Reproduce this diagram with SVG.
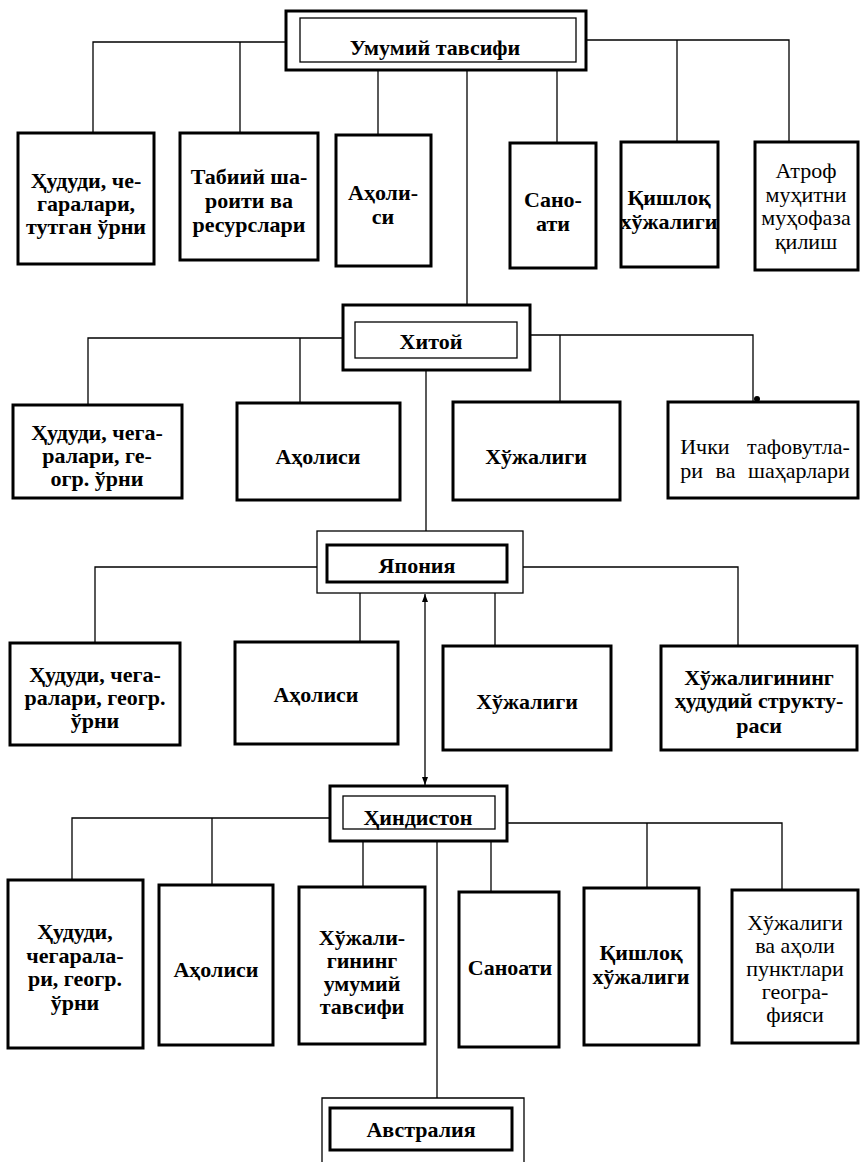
<svg xmlns="http://www.w3.org/2000/svg" width="860" height="1162" viewBox="0 0 860 1162">
<defs>
<style>
.box{fill:#fff;stroke:#000;stroke-width:3}
.thin{fill:none;stroke:#000;stroke-width:1.3}
.conn line,.conn polyline{fill:none;stroke:#000;stroke-width:1.3}
text{font-family:"Liberation Serif","DejaVu Serif",serif;font-weight:bold;font-size:22px;text-anchor:middle;fill:#000}
.n{font-weight:normal}
</style>
<marker id="ah" viewBox="0 0 8 6" refX="8" refY="3" markerWidth="8" markerHeight="6" markerUnits="userSpaceOnUse" orient="auto-start-reverse">
<path d="M0,0 L8,3 L0,6 Z" fill="#000"/>
</marker>
</defs>
<rect width="860" height="1162" fill="#fff"/>

<g id="connectors" class="conn">
<polyline points="286,42 93,42 93,133"/>
<line x1="240" y1="42" x2="240" y2="133"/>
<line x1="378" y1="70" x2="378" y2="135"/>
<line x1="467" y1="70" x2="467" y2="305"/>
<line x1="557" y1="70" x2="557" y2="143"/>
<polyline points="586,40 789,40 789,142"/>
<line x1="677" y1="40" x2="677" y2="142"/>

<polyline points="343,338 88,338 88,405"/>
<line x1="300" y1="338" x2="300" y2="403"/>
<polyline points="530,335 753,335 753,402"/>
<line x1="560" y1="335" x2="560" y2="402"/>
<circle cx="757" cy="399" r="3" fill="#000"/>
<line x1="426" y1="370" x2="426" y2="531"/>

<polyline points="317,567 95,567 95,643"/>
<line x1="360" y1="593" x2="360" y2="642"/>
<line x1="425" y1="594" x2="425" y2="785" marker-start="url(#ah)" marker-end="url(#ah)"/>
<line x1="495" y1="593" x2="495" y2="646"/>
<polyline points="523,567 738,567 738,646"/>

<polyline points="330,818 72,818 72,880"/>
<line x1="212" y1="818" x2="212" y2="885"/>
<line x1="363" y1="841" x2="363" y2="887"/>
<line x1="437" y1="841" x2="437" y2="1098"/>
<line x1="491" y1="841" x2="491" y2="892"/>
<polyline points="507,823 782,823 782,890"/>
<line x1="647" y1="823" x2="647" y2="888"/>
</g>

<g id="umumiy">
<rect class="box" x="286" y="11" width="300" height="59"/>
<rect class="thin" x="300" y="18" width="276" height="44"/>
<text x="435" y="55">Умумий тавсифи</text>
</g>

<g id="u1">
<rect class="box" x="18" y="133" width="136" height="131"/>
<text x="86" y="188">Ҳудуди, че-</text>
<text x="86" y="211">гаралари,</text>
<text x="86" y="234">тутган ўрни</text>
</g>
<g id="u2">
<rect class="box" x="180" y="133" width="138" height="127"/>
<text x="249" y="184">Табиий ша-</text>
<text x="249" y="208">роити ва</text>
<text x="249" y="232">ресурслари</text>
</g>
<g id="u3">
<rect class="box" x="336" y="135" width="95" height="131"/>
<text x="383" y="200">Аҳоли-</text>
<text x="383" y="224">си</text>
</g>
<g id="u4">
<rect class="box" x="510" y="143" width="86" height="125"/>
<text x="553" y="207">Сано-</text>
<text x="553" y="231">ати</text>
</g>
<g id="u5">
<rect class="box" x="621" y="142" width="97" height="125"/>
<text x="669" y="205">Қишлоқ</text>
<text x="669" y="229">хўжалиги</text>
</g>
<g id="u6">
<rect class="box" x="755" y="142" width="103" height="128"/>
<text class="n" x="806" y="178">Атроф</text>
<text class="n" x="806" y="202">муҳитни</text>
<text class="n" x="806" y="225">муҳофаза</text>
<text class="n" x="806" y="249">қилиш</text>
</g>

<g id="xitoy">
<rect class="box" x="343" y="305" width="187" height="65"/>
<rect class="thin" x="355" y="322" width="162" height="36"/>
<text x="431" y="349">Хитой</text>
</g>
<g id="x1">
<rect class="box" x="13" y="405" width="169" height="93"/>
<text x="97" y="440">Ҳудуди, чега-</text>
<text x="97" y="463">ралари, ге-</text>
<text x="97" y="486">огр. ўрни</text>
</g>
<g id="x2">
<rect class="box" x="237" y="403" width="163" height="97"/>
<text x="318" y="464">Аҳолиси</text>
</g>
<g id="x3">
<rect class="box" x="453" y="402" width="167" height="98"/>
<text x="536" y="464">Хўжалиги</text>
</g>
<g id="x4">
<rect class="box" x="668" y="402" width="190" height="96"/>
<text class="n" x="765" y="454" word-spacing="12">Ички тафовутла-</text>
<text class="n" x="765" y="478" word-spacing="7">ри ва шаҳарлари</text>
</g>

<g id="yaponiya">
<rect class="thin" x="317" y="531" width="206" height="62"/>
<rect class="box" x="327" y="545" width="180" height="37"/>
<text x="417" y="573">Япония</text>
</g>
<g id="y1">
<rect class="box" x="10" y="643" width="170" height="102"/>
<text x="95" y="682">Ҳудуди, чега-</text>
<text x="95" y="705">ралари, геогр.</text>
<text x="95" y="728">ўрни</text>
</g>
<g id="y2">
<rect class="box" x="235" y="642" width="163" height="102"/>
<text x="316" y="702">Аҳолиси</text>
</g>
<g id="y3">
<rect class="box" x="443" y="646" width="168" height="104"/>
<text x="527" y="709">Хўжалиги</text>
</g>
<g id="y4">
<rect class="box" x="661" y="646" width="196" height="104"/>
<text x="759" y="685">Хўжалигининг</text>
<text x="759" y="708">ҳудудий структу-</text>
<text x="759" y="733">раси</text>
</g>

<g id="hindiston">
<rect class="box" x="330" y="786" width="177" height="55"/>
<rect class="thin" x="343" y="796" width="152" height="33"/>
<text x="418" y="825">Ҳиндистон</text>
</g>
<g id="h1">
<rect class="box" x="8" y="880" width="135" height="168"/>
<text x="75" y="939">Ҳудуди,</text>
<text x="75" y="963">чегарала-</text>
<text x="75" y="986">ри, геогр.</text>
<text x="75" y="1010">ўрни</text>
</g>
<g id="h2">
<rect class="box" x="159" y="885" width="114" height="160"/>
<text x="216" y="977">Аҳолиси</text>
</g>
<g id="h3">
<rect class="box" x="299" y="887" width="126" height="157"/>
<text x="362" y="945">Хўжали-</text>
<text x="362" y="968">гининг</text>
<text x="362" y="991">умумий</text>
<text x="362" y="1014">тавсифи</text>
</g>
<g id="h4">
<rect class="box" x="459" y="892" width="100" height="155"/>
<text x="510" y="975">Саноати</text>
</g>
<g id="h5">
<rect class="box" x="584" y="888" width="115" height="157"/>
<text x="641" y="960">Қишлоқ</text>
<text x="641" y="984">хўжалиги</text>
</g>
<g id="h6">
<rect class="box" x="732" y="890" width="126" height="153"/>
<text class="n" x="795" y="930">Хўжалиги</text>
<text class="n" x="795" y="953">ва аҳоли</text>
<text class="n" x="795" y="976">пунктлари</text>
<text class="n" x="795" y="999">геогра-</text>
<text class="n" x="795" y="1022">фияси</text>
</g>

<g id="avstraliya">
<polyline class="thin" points="322,1162 322,1098 524,1098 524,1162"/>
<rect class="box" x="330" y="1108" width="182" height="42"/>
<text x="421" y="1137">Австралия</text>
</g>
</svg>
